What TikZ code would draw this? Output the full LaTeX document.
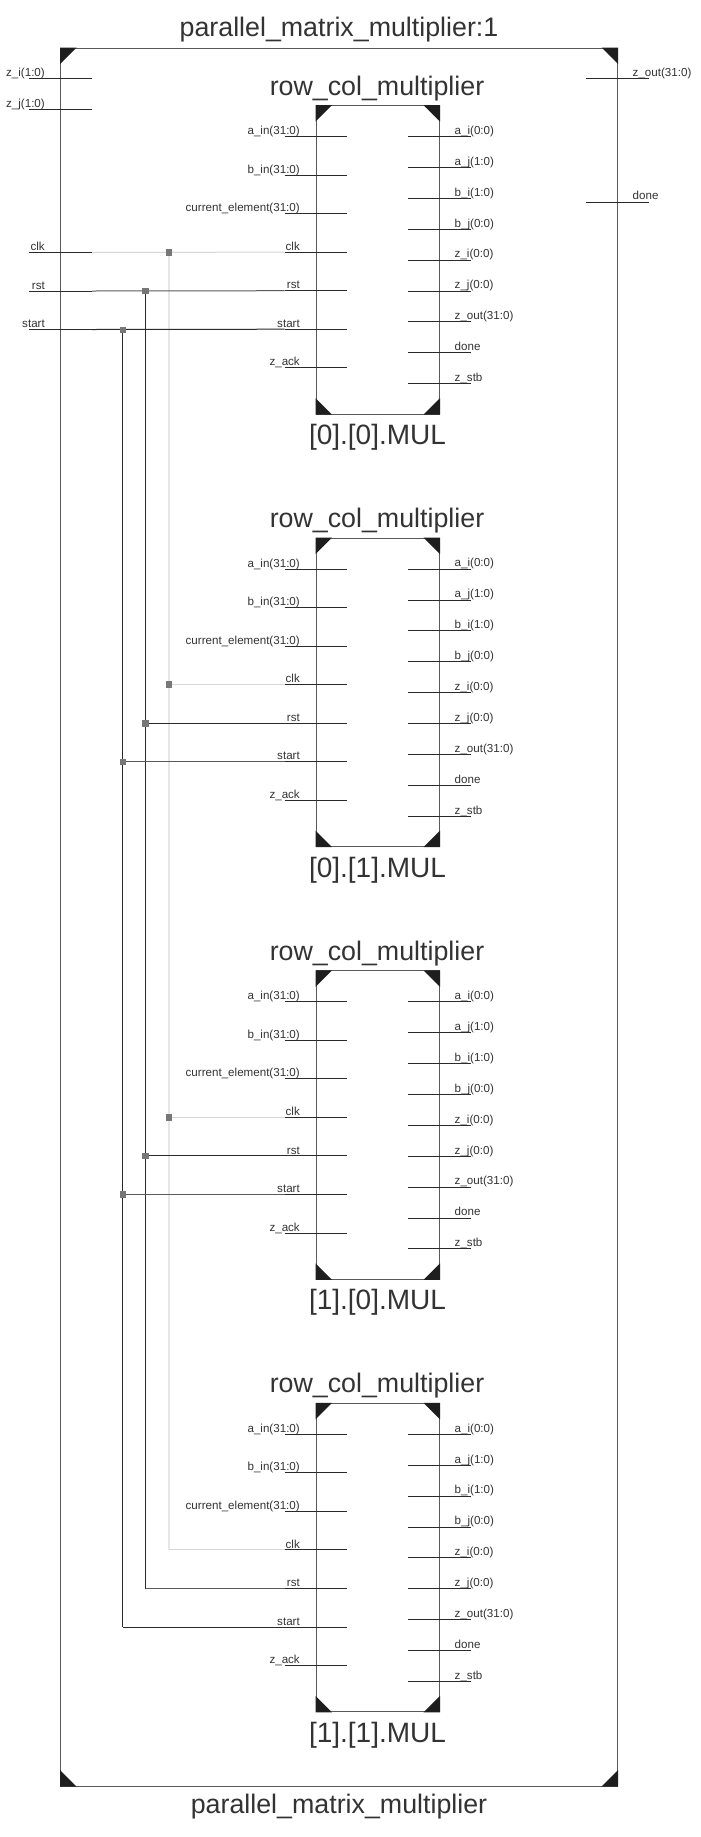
\documentclass[tikz,border=0pt]{standalone}
\usepackage{fontspec}
\setmainfont{Liberation Sans}
\definecolor{ink}{HTML}{333333}
\definecolor{boxline}{HTML}{5A5A5A}
\definecolor{pinline}{HTML}{2A2A2A}
\definecolor{clkline}{HTML}{D6D6D6}
\definecolor{clkbus}{HTML}{E6E6E6}
\definecolor{dot}{HTML}{777777}
\definecolor{corner}{HTML}{1E1E1E}
\tikzset{
  blockbox/.style={draw=boxline,line width=1pt,rectangle,inner sep=0pt,fill=none},
  pinwire/.style={draw=pinline,line width=1pt},
  graywire/.style={draw=boxline,line width=1pt},
  clkwire/.style={draw=clkline,line width=1pt},
  clkvert/.style={draw=clkbus,line width=1.4pt},
  smalltext/.style={font=\fontsize{11.6}{13}\selectfont,text=ink,inner sep=0pt},
  lefttext/.style={smalltext,anchor=base east},
  righttext/.style={smalltext,anchor=base west},
  bigtext/.style={font=\fontsize{26.8}{30}\selectfont,text=ink,inner sep=0pt,anchor=base},
  instname/.style={font=\fontsize{28}{30}\selectfont,text=ink,inner sep=0pt,anchor=base},
  junction/.style={rectangle,fill=dot,draw=none,minimum size=6.5pt,inner sep=0pt},
  cornerfill/.style={fill=corner,draw=none}
}
\newcommand{\cornermarks}[2]{%
  \fill[cornerfill] (#1.north west) -- ++(#2,0) -- ++(-#2,#2) -- cycle;
  \fill[cornerfill] (#1.north east) -- ++(-#2,0) -- ++(#2,#2) -- cycle;
  \fill[cornerfill] (#1.south west) -- ++(#2,0) -- ++(-#2,-#2) -- cycle;
  \fill[cornerfill] (#1.south east) -- ++(-#2,0) -- ++(#2,-#2) -- cycle;
}
\begin{document}
\begin{tikzpicture}[x=1pt,y=-1pt]
\useasboundingbox (0,0) rectangle (701,1837);
\fill[white] (0,0) rectangle (701,1837);

% top level
\node[blockbox,minimum width=557pt,minimum height=1738pt] (top) at (339,917) {};
\cornermarks{top}{16.5}
\node[bigtext] (toptitle) at (339,36) {parallel\_matrix\_multiplier:1};
\node[bigtext] (topname) at (339,1813) {parallel\_matrix\_multiplier};

\foreach \nm/\lbl/\yy in {zi/z\_i(1:0)/78.5,zj/z\_j(1:0)/109.5,clk/clk/252.5,rst/rst/291,start/start/329.5}{
  \coordinate (t-\nm-a) at (29,\yy);
  \coordinate (t-\nm-b) at (92,\yy);
  \draw[pinwire] (t-\nm-a) -- (t-\nm-b);
  \node[lefttext] (t-\nm-l) at (45,\yy-1.9) {\lbl};
}
\foreach \nm/\lbl/\yy in {zout/z\_out(31:0)/78.5,done/done/202}{
  \coordinate (t-\nm-a) at (585.5,\yy);
  \coordinate (t-\nm-b) at (648.5,\yy);
  \draw[pinwire] (t-\nm-a) -- (t-\nm-b);
  \node[righttext] (t-\nm-l) at (632.5,\yy-2.2) {\lbl};
}

% instances
\foreach \k/\inst in {0/{[0].[0].MUL},1/{[0].[1].MUL},2/{[1].[0].MUL},3/{[1].[1].MUL}}{
  \begin{scope}[shift={(0,\k*432.6)}]
    \node[blockbox,minimum width=123.5pt,minimum height=308.5pt] (m\k) at (377.75,259.8) {};
    \cornermarks{m\k}{16.5}
    \node[bigtext] (m\k-type) at (377,95) {row\_col\_multiplier};
    \node[instname] (m\k-name) at (377.5,444.5) {\inst};
    \foreach \nm/\lbl/\yy in {ain/a\_in(31:0)/136.5,bin/b\_in(31:0)/175,cur/current\_element(31:0)/213.6,clk/clk/252.1,rst/rst/290.7,start/start/329.2,zack/z\_ack/367.8}{
      \coordinate (m\k-\nm-a) at (284.5,\yy);
      \coordinate (m\k-\nm-b) at (347,\yy);
      \draw[pinwire] (m\k-\nm-a) -- (m\k-\nm-b);
      \node[lefttext] (m\k-\nm-l) at (300,\yy-1.9) {\lbl};
    }
    \foreach \nm/\lbl/\yy in {ai/a\_i(0:0)/136.5,aj/a\_j(1:0)/167.4,bi/b\_i(1:0)/198.3,bj/b\_j(0:0)/229.2,zi/z\_i(0:0)/260.1,zj/z\_j(0:0)/291,zout/z\_out(31:0)/321.9,dn/done/352.8,zstb/z\_stb/383.7}{
      \coordinate (m\k-\nm-a) at (408,\yy);
      \coordinate (m\k-\nm-b) at (470.5,\yy);
      \draw[pinwire] (m\k-\nm-a) -- (m\k-\nm-b);
      \node[righttext] (m\k-\nm-l) at (454.5,\yy-2.2) {\lbl};
    }
  \end{scope}
}

% nets: branch points
\coordinate (pclk0) at (169,252.3);
\coordinate (prst0) at (145.7,291);
\coordinate (pstart0) at (122.8,329.8);
\foreach \k in {1,2}{
  \coordinate (pclk\k) at (m\k-clk-a -| pclk0);
  \coordinate (prst\k) at (m\k-rst-a -| prst0);
  \coordinate (pstart\k) at (m\k-start-a -| pstart0);
}
\coordinate (bclk) at (m3-clk-a -| pclk0);
\coordinate (brst) at (m3-rst-a -| prst0);
\coordinate (bstart) at (m3-start-a -| pstart0);

\draw[clkvert] (pclk0) -- (bclk);
\draw[clkwire] (t-clk-b) -- (m0-clk-a);
\draw[clkwire] (pclk1) -- (m1-clk-a);
\draw[clkwire] (pclk2) -- (m2-clk-a);
\draw[clkwire] (bclk) -- (m3-clk-a);
\draw[pinwire] (prst0) -- (brst);
\draw[pinwire] (pstart0) -- (bstart);
\draw[graywire] (t-rst-b) -- (m0-rst-a);
\draw[pinwire] (t-start-b) -- (m0-start-a);
\draw[pinwire] (prst1) -- (m1-rst-a);
\draw[graywire] (pstart1) -- (m1-start-a);
\draw[pinwire] (prst2) -- (m2-rst-a);
\draw[graywire] (pstart2) -- (m2-start-a);
\draw[graywire] (brst) -- (m3-rst-a);
\draw[pinwire] (bstart) -- (m3-start-a);
\foreach \k in {0,1,2}{
  \node[junction] (jclk\k) at (pclk\k) {};
  \node[junction] (jrst\k) at (prst\k) {};
  \node[junction] (jstart\k) at (pstart\k) {};
}
\end{tikzpicture}
\end{document}
